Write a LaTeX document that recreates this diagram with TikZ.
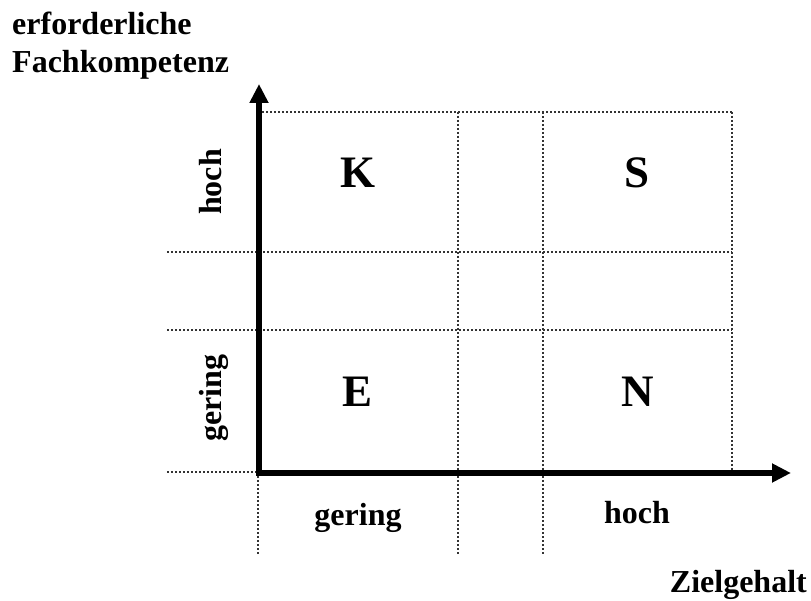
\documentclass[tikz,border=0pt]{standalone}
\usepackage{fontspec}
\setmainfont{Liberation Serif}
\usetikzlibrary{arrows.meta}
\begin{document}
\begin{tikzpicture}[x=1pt,y=-1pt,
  grid/.style={line width=2.2pt,dash pattern=on 2.4pt off 1.6pt,black!80},
  axisline/.style={line width=5.5pt,{Triangle[length=19pt,width=18pt]}-{Triangle[length=19pt,width=18pt]}},
  lbl/.style={font=\fontsize{32}{38}\selectfont\bfseries,inner sep=0pt},
  big/.style={font=\fontsize{45}{50}\selectfont\bfseries,inner sep=0pt}]
\useasboundingbox (0,0) rectangle (811,601);
% grid lines
\draw[grid] (262,112) -- (732,112);
\draw[grid] (167,252) -- (732,252);
\draw[grid] (167,330) -- (732,330);
\draw[grid] (167,472) -- (258,472);
\draw[grid] (458,112) -- (458,555);
\draw[grid] (543,112) -- (543,555);
\draw[grid] (732,112) -- (732,473);
\draw[grid] (258,476) -- (258,555);
% axes
\coordinate (o) at (259,473);
\coordinate (ytip) at (259,84);
\coordinate (xtip) at (791,473);
\draw[axisline] (ytip) -- (o) -- (xtip);
% quadrant letters
\node[big] (K) at (358,173) {K};
\node[big] (S) at (637,173) {S};
\node[big] (E) at (358,392) {E};
\node[big] (N) at (638,392) {N};
% axis labels
\node[lbl,anchor=base,rotate=90] (yh) at (221,182) {hoch};
\node[lbl,anchor=base,rotate=90] (yg) at (221,398) {gering};
\node[lbl,anchor=base] (xg) at (358,525) {gering};
\node[lbl,anchor=base] (xh) at (637,523) {hoch};
\node[lbl,anchor=base east] (zg) at (807,592) {Zielgehalt};
\node[lbl,anchor=base west] (t1) at (12,35) {erforderliche};
\node[lbl,anchor=base west] (t2) at (12,73) {Fachkompetenz};
\end{tikzpicture}
\end{document}
